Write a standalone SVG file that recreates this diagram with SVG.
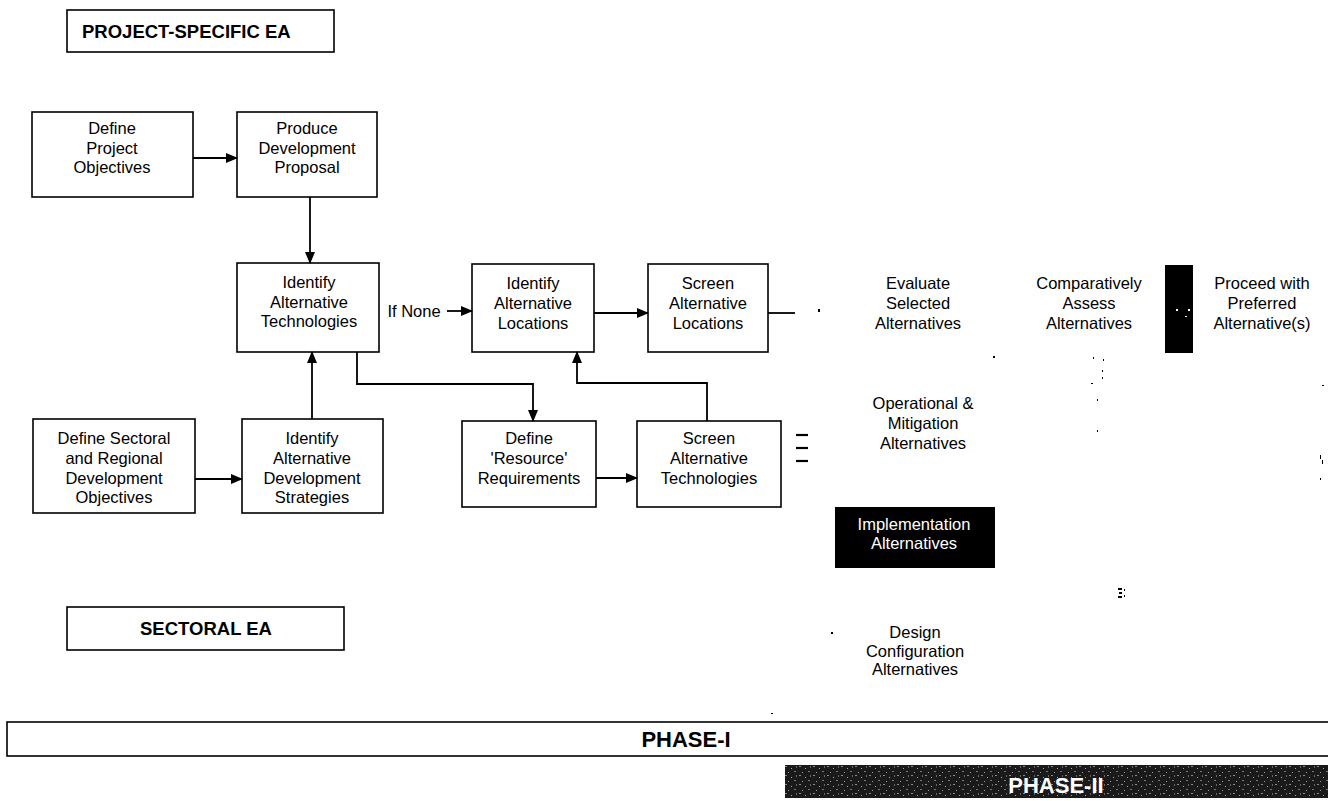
<svg xmlns="http://www.w3.org/2000/svg" width="1328" height="801" viewBox="0 0 1328 801">
<style>
.box{fill:#fff;stroke:#000;stroke-width:1.6}
.t{font-family:"Liberation Sans",Arial,sans-serif;font-size:16.5px;fill:#000;text-anchor:middle}
.w{fill:#fff}
.h{font-family:"Liberation Sans",Arial,sans-serif;font-size:18.5px;font-weight:bold;fill:#000}
.ph{font-family:"Liberation Sans",Arial,sans-serif;font-size:22px;font-weight:bold;text-anchor:middle}
.c{fill:none;stroke:#000;stroke-width:1.8}
.a{marker-end:url(#ah)}
</style>
<defs>
<marker id="ah" markerWidth="12" markerHeight="10" refX="11" refY="5" orient="auto" markerUnits="userSpaceOnUse">
<path d="M0,0 L12,5 L0,10 Z" fill="#000"/>
</marker>
<pattern id="noise" width="14" height="9" patternUnits="userSpaceOnUse">
<rect width="14" height="9" fill="#1a1a1a"/>
<rect x="1" y="1" width="2" height="1" fill="#8a8a8a"/>
<rect x="7" y="3" width="1" height="1" fill="#aaa"/>
<rect x="10" y="6" width="2" height="1" fill="#777"/>
<rect x="4" y="7" width="1" height="1" fill="#999"/>
<rect x="12" y="1" width="1" height="2" fill="#666"/>
</pattern>
</defs>
<rect width="1328" height="801" fill="#fff"/>

<g id="project-specific-ea">
<rect class="box" x="67" y="10" width="267" height="42"/>
<text class="h" x="82" y="38">PROJECT-SPECIFIC EA</text>
</g>

<g id="define-project-objectives">
<rect class="box" x="32" y="112" width="161" height="85"/>
<text class="t" x="112" y="134">Define</text>
<text class="t" x="112" y="154">Project</text>
<text class="t" x="112" y="173">Objectives</text>
</g>

<g id="produce-development-proposal">
<rect class="box" x="237" y="112" width="140" height="85"/>
<text class="t" x="307" y="134">Produce</text>
<text class="t" x="307" y="154">Development</text>
<text class="t" x="307" y="173">Proposal</text>
</g>

<g id="identify-alternative-technologies">
<rect class="box" x="237" y="263" width="142" height="89"/>
<text class="t" x="309" y="288">Identify</text>
<text class="t" x="309" y="308">Alternative</text>
<text class="t" x="309" y="327">Technologies</text>
</g>

<g id="identify-alternative-locations">
<rect class="box" x="472" y="264" width="122" height="88"/>
<text class="t" x="533" y="289">Identify</text>
<text class="t" x="533" y="309">Alternative</text>
<text class="t" x="533" y="329">Locations</text>
</g>

<g id="screen-alternative-locations">
<rect class="box" x="648" y="264" width="120" height="88"/>
<text class="t" x="708" y="289">Screen</text>
<text class="t" x="708" y="309">Alternative</text>
<text class="t" x="708" y="329">Locations</text>
</g>

<g id="define-sectoral-objectives">
<rect class="box" x="33" y="419" width="162" height="94"/>
<text class="t" x="114" y="444">Define Sectoral</text>
<text class="t" x="114" y="464">and Regional</text>
<text class="t" x="114" y="484">Development</text>
<text class="t" x="114" y="503">Objectives</text>
</g>

<g id="identify-alternative-development-strategies">
<rect class="box" x="242" y="419" width="141" height="94"/>
<text class="t" x="312" y="444">Identify</text>
<text class="t" x="312" y="464">Alternative</text>
<text class="t" x="312" y="484">Development</text>
<text class="t" x="312" y="503">Strategies</text>
</g>

<g id="define-resource-requirements">
<rect class="box" x="462" y="421" width="134" height="86"/>
<text class="t" x="529" y="444">Define</text>
<text class="t" x="529" y="464">'Resource'</text>
<text class="t" x="529" y="484">Requirements</text>
</g>

<g id="screen-alternative-technologies">
<rect class="box" x="637" y="421" width="144" height="86"/>
<text class="t" x="709" y="444">Screen</text>
<text class="t" x="709" y="464">Alternative</text>
<text class="t" x="709" y="484">Technologies</text>
</g>

<g id="evaluate-selected-alternatives">
<text class="t" x="918" y="289">Evaluate</text>
<text class="t" x="918" y="309">Selected</text>
<text class="t" x="918" y="329">Alternatives</text>
</g>

<g id="comparatively-assess-alternatives">
<text class="t" x="1089" y="289">Comparatively</text>
<text class="t" x="1089" y="309">Assess</text>
<text class="t" x="1089" y="329">Alternatives</text>
</g>

<g id="black-bar">
<rect x="1165" y="265" width="28" height="88" fill="#000"/>
<rect x="1176" y="309" width="2" height="2" fill="#fff"/>
<rect x="1188" y="309" width="2" height="2" fill="#fff"/>
<rect x="1185" y="316" width="2" height="1" fill="#fff"/>
</g>

<g id="proceed-with-preferred">
<text class="t" x="1262" y="289">Proceed with</text>
<text class="t" x="1262" y="309">Preferred</text>
<text class="t" x="1262" y="329">Alternative(s)</text>
</g>

<g id="operational-mitigation-alternatives">
<text class="t" x="923" y="409">Operational &amp;</text>
<text class="t" x="923" y="429">Mitigation</text>
<text class="t" x="923" y="449">Alternatives</text>
</g>

<g id="implementation-alternatives">
<rect x="835" y="507" width="160" height="61" fill="#000"/>
<text class="t w" x="914" y="530">Implementation</text>
<text class="t w" x="914" y="549">Alternatives</text>
</g>

<g id="design-configuration-alternatives">
<text class="t" x="915" y="638">Design</text>
<text class="t" x="915" y="657">Configuration</text>
<text class="t" x="915" y="675">Alternatives</text>
</g>

<g id="sectoral-ea">
<rect class="box" x="67" y="607" width="277" height="43"/>
<text class="h" x="206" y="635" text-anchor="middle">SECTORAL EA</text>
</g>

<g id="phase-1">
<rect class="box" x="7" y="722" width="1330" height="34"/>
<text class="ph" x="686" y="747" fill="#000">PHASE-I</text>
</g>

<g id="phase-2">
<rect x="785" y="765" width="545" height="33" fill="url(#noise)"/>
<text class="ph" x="1056" y="793" fill="#fff">PHASE-II</text>
</g>

<g id="connectors">
<line class="c a" x1="193" y1="158" x2="237" y2="158"/>
<line class="c a" x1="310" y1="197" x2="310" y2="263"/>
<line class="c a" x1="312" y1="419" x2="312" y2="352"/>
<line class="c a" x1="195" y1="479" x2="242" y2="479"/>
<text class="t" x="414" y="317">If None</text>
<line class="c a" x1="447" y1="311" x2="472" y2="311"/>
<line class="c a" x1="594" y1="313" x2="648" y2="313"/>
<line class="c" x1="768" y1="313" x2="795" y2="313"/>
<polyline class="c a" points="357,352 357,384 533,384 533,421"/>
<polyline class="c a" points="707,421 707,383 577,383 577,352"/>
<line class="c a" x1="596" y1="478" x2="637" y2="478"/>
<line x1="796" y1="435" x2="808" y2="435" stroke="#000" stroke-width="2.2"/>
<line x1="796" y1="448" x2="808" y2="448" stroke="#000" stroke-width="2.2"/>
<line x1="796" y1="461" x2="808" y2="461" stroke="#000" stroke-width="2.2"/>
</g>

<g id="specks" fill="#000">
<rect x="818" y="309" width="2" height="3"/>
<rect x="993" y="356" width="2" height="2"/>
<rect x="1093" y="357" width="1" height="2"/>
<rect x="1103" y="359" width="1" height="2"/>
<rect x="1102" y="370" width="1" height="2"/>
<rect x="1102" y="377" width="1" height="2"/>
<rect x="1091" y="383" width="2" height="1"/>
<rect x="1097" y="399" width="1" height="2"/>
<rect x="1097" y="430" width="1" height="2"/>
<rect x="831" y="632" width="2" height="2"/>
<rect x="1118" y="588" width="4" height="2"/>
<rect x="1119" y="592" width="3" height="2"/>
<rect x="1118" y="596" width="4" height="2"/>
<rect x="1124" y="589" width="1" height="2"/>
<rect x="1124" y="595" width="1" height="2"/>
<rect x="1322" y="385" width="2" height="1"/>
<rect x="1320" y="455" width="1" height="4"/>
<rect x="1322" y="460" width="1" height="4"/>
<rect x="1320" y="478" width="1" height="2"/>
<rect x="771" y="713" width="2" height="1"/>
</g>
</svg>
